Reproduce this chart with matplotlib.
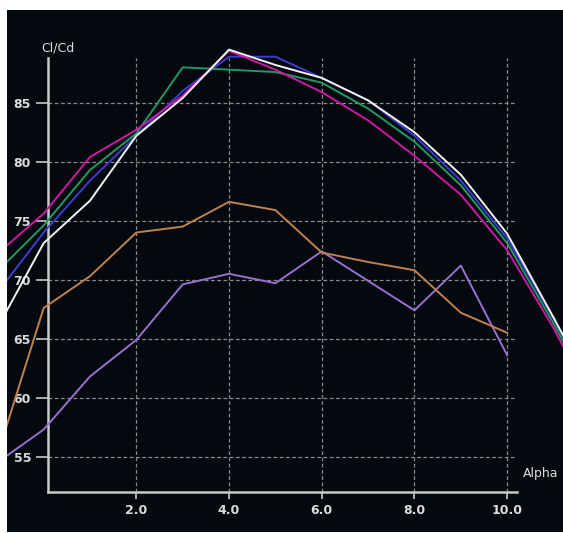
import matplotlib
matplotlib.use("Agg")
import matplotlib.pyplot as plt
from matplotlib.patches import Rectangle

alpha = [-1, 0, 1, 2, 3, 4, 5, 6, 7, 8, 9, 10, 11, 12]
alpha_short = [-1, 0, 1, 2, 3, 4, 5, 6, 7, 8, 9, 10]

magenta = [72.2, 75.6, 80.4, 82.7, 85.6, 89.4, 87.8, 85.9, 83.5, 80.5, 77.2, 72.5, 65.9, 58.5]
green = [70.7, 74.6, 79.3, 82.4, 88.0, 87.8, 87.6, 86.7, 84.5, 81.7, 78.0, 73.1, 66.3, 59.0]
blue = [68.9, 74.0, 78.4, 82.2, 86.0, 88.9, 88.9, 87.1, 85.2, 82.2, 78.4, 73.5, 66.7, 59.4]
white = [65.9, 73.1, 76.7, 82.2, 85.4, 89.5, 88.2, 87.1, 85.2, 82.5, 78.9, 73.9, 66.8, 59.5]
orange = [55.1, 67.6, 70.3, 74.0, 74.5, 76.6, 75.9, 72.3, 71.5, 70.8, 67.2, 65.5]
purple = [54.5, 57.3, 61.8, 64.9, 69.6, 70.5, 69.7, 72.4, 69.9, 67.4, 71.2, 63.6]

xticks = [2, 4, 6, 8, 10]
xticklabels = ["2.0", "4.0", "6.0", "8.0", "10.0"]
yticks = [55, 60, 65, 70, 75, 80, 85]

W, H = 563, 533
fig = plt.figure(figsize=(W / 100, H / 100), dpi=100, facecolor="white")

bg = Rectangle((7 / W, 1 / H), (W - 7) / W, (523 - 1) / H, transform=fig.transFigure,
               facecolor="#04080f", edgecolor="none", zorder=0)
fig.add_artist(bg)

ax = fig.add_axes([47.7 / W, 41.3 / H, (516.7 - 47.7) / W, (491.7 - 58) / H])
ax.set_facecolor("none")
ax.set_xlim(0.087, 10.206)
ax.set_ylim(52.03, 88.79)

series = [
    (alpha_short, purple, "#9a6fcf"),
    (alpha_short, orange, "#c0814f"),
    (alpha, blue, "#3c3cd0"),
    (alpha, green, "#1f9a62"),
    (alpha, magenta, "#cc1aa4"),
    (alpha, white, "#f2f2f2"),
]
for xs, ys, c in series:
    ln, = ax.plot(xs, ys, color=c, lw=1.4, zorder=3)
    ln.set_clip_path(bg)

for s in ["top", "right"]:
    ax.spines[s].set_visible(False)
for s in ["left", "bottom"]:
    ax.spines[s].set_color("#c8c8c8")
    ax.spines[s].set_linewidth(1.8)

ax.set_xticks(xticks)
ax.set_xticklabels(xticklabels)
ax.set_yticks(yticks)
ax.tick_params(axis="both", colors="#c8c8c8", labelcolor="#dcdcdc", labelsize=9,
               length=6, width=1.2, direction="out")
for lab in ax.get_xticklabels() + ax.get_yticklabels():
    lab.set_fontweight("semibold")
ax.tick_params(axis="x", length=5, pad=4)
ax.tick_params(axis="y", length=9, pad=3)
ax.grid(True, color="#8a8a8a", linestyle=(0, (3, 2)), linewidth=0.9)
ax.set_axisbelow(True)

fig.text(41 / W, 1 - 48 / H, "Cl/Cd", color="#dcdcdc", fontsize=9, ha="left", va="center")
fig.text(523 / W, 1 - 473 / H, "Alpha", color="#dcdcdc", fontsize=9, ha="left", va="center")

fig.savefig("out.png", dpi=100, facecolor="white")
